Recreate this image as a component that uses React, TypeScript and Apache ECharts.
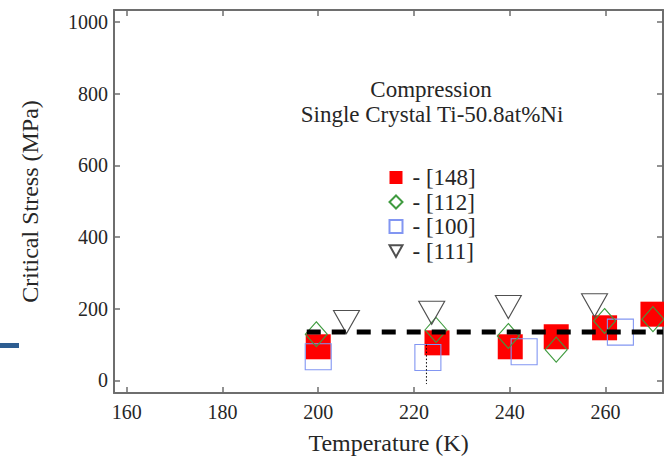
import React, { useEffect, useRef } from "react";
import * as echarts from "echarts";

// Temperature (K) and critical stress (MPa) for each loading orientation
const temp148 = [200, 224.8, 240.1, 249.7, 259.8, 269.9];
const stress148 = [94, 105, 94, 122, 147, 185];

const temp112 = [199.6, 224.6, 239.7, 249.7, 259.8, 269.9];
const stress112 = [129, 141, 124, 86, 166, 171];

const temp100 = [200, 222.9, 243, 263.1];
const stress100 = [66, 64, 80, 135];

const temp111 = [205.9, 223.7, 239.7, 257.7];
const stress111 = [163, 189, 205, 210];

// Reference level drawn as a thick dashed line
const refTemps = [197.6, 272];
const refStress = 135;

// Dotted marker near 223 K
const dottedTemp = 222.6;
const dottedStress = [100, -10];

const xTicks = [160, 180, 200, 220, 240, 260];
const yTicks = [0, 200, 400, 600, 800, 1000];

const seriesNames = ["- [148]", "- [112]", "- [100]", "- [111]"];

const serif = "'Liberation Serif', 'Times New Roman', serif";
const axisColor = "#6e6e6e";
const textColor = "#262626";

const pairs = (xs: number[], ys: number[]) => xs.map((x, i) => [x, ys[i]]);

export default function App() {
  const ref = useRef<HTMLDivElement>(null);

  useEffect(() => {
    if (!ref.current) return;
    const chart = echarts.init(ref.current, undefined, { renderer: "svg" });

    const baseX = {
      type: "value" as const,
      min: 157.35,
      max: 272,
      axisLine: { show: true, onZero: false, lineStyle: { color: axisColor, width: 2 } },
      axisTick: {
        show: true,
        inside: true,
        length: 6,
        customValues: xTicks,
        lineStyle: { color: axisColor, width: 1.5 },
      },
      splitLine: { show: false },
    };
    const baseY = {
      type: "value" as const,
      min: -35,
      max: 1034,
      axisLine: { show: true, onZero: false, lineStyle: { color: axisColor, width: 2 } },
      axisTick: {
        show: true,
        inside: true,
        length: 6,
        customValues: yTicks,
        lineStyle: { color: axisColor, width: 1.5 },
      },
      splitLine: { show: false },
    };

    chart.setOption({
      animation: false,
      backgroundColor: "#ffffff",
      grid: { left: 114, right: 1, top: 10, bottom: 64, containLabel: false },
      xAxis: [
        {
          ...baseX,
          position: "bottom",
          name: "Temperature (K)",
          nameLocation: "middle",
          nameGap: 38,
          nameTextStyle: { fontFamily: serif, fontSize: 24, color: textColor },
          axisLabel: {
            customValues: xTicks,
            margin: 9,
            fontFamily: serif,
            fontSize: 20,
            color: textColor,
            formatter: (v: number) => String(v),
          },
        },
        { ...baseX, position: "top", axisLabel: { show: false } },
      ],
      yAxis: [
        {
          ...baseY,
          position: "left",
          name: "Critical Stress (MPa)",
          nameLocation: "middle",
          nameGap: 72,
          nameTextStyle: { fontFamily: serif, fontSize: 24, color: textColor },
          axisLabel: {
            customValues: yTicks,
            margin: 6,
            fontFamily: serif,
            fontSize: 20,
            color: textColor,
            formatter: (v: number) => String(v),
          },
        },
        { ...baseY, position: "right", axisLabel: { show: false } },
      ],
      legend: {
        orient: "vertical",
        left: 382,
        top: 161,
        itemWidth: 13,
        itemHeight: 13,
        itemGap: 1.5,
        data: seriesNames,
        textStyle: {
          fontFamily: serif,
          fontSize: 23,
          color: textColor,
          padding: [0, 0, 0, 5],
        },
      },
      graphic: [
        {
          type: "text",
          x: 431,
          y: 89,
          style: {
            text: "Compression",
            fontFamily: serif,
            fontSize: 23,
            fill: textColor,
            textAlign: "center",
            textVerticalAlign: "middle",
          },
        },
        {
          type: "text",
          x: 432,
          y: 114,
          style: {
            text: "Single Crystal Ti-50.8at%Ni",
            fontFamily: serif,
            fontSize: 23,
            fill: textColor,
            textAlign: "center",
            textVerticalAlign: "middle",
          },
        },
        {
          type: "rect",
          shape: { x: 0, y: 343, width: 19, height: 5 },
          style: { fill: "#2d5d91" },
        },
      ],
      series: [
        {
          name: seriesNames[0],
          type: "scatter",
          symbol: "rect",
          symbolSize: 25,
          itemStyle: { color: "#ff0000", opacity: 1 },
          data: pairs(temp148, stress148),
          z: 2,
        },
        {
          name: seriesNames[1],
          type: "scatter",
          symbol: "diamond",
          symbolSize: [22, 25],
          itemStyle: { color: "none", borderColor: "#3f9b3f", borderWidth: 1.1, opacity: 1 },
          data: pairs(temp112, stress112),
          z: 4,
        },
        {
          name: seriesNames[2],
          type: "scatter",
          symbol: "rect",
          symbolSize: 26,
          itemStyle: { color: "none", borderColor: "#8296f2", borderWidth: 1.1, opacity: 1 },
          data: pairs(temp100, stress100),
          z: 3,
        },
        {
          name: seriesNames[3],
          type: "scatter",
          symbol: "path://M0,0 L10,0 L5,9 Z",
          symbolSize: [26, 23],
          itemStyle: { color: "none", borderColor: "#505050", borderWidth: 1.1, opacity: 1 },
          data: pairs(temp111, stress111),
          z: 5,
        },
        {
          type: "line",
          data: refTemps.map((t) => [t, refStress]),
          symbol: "none",
          lineStyle: { color: "#000000", width: 5, type: [14, 11] },
          z: 6,
          silent: true,
        },
        {
          type: "line",
          data: dottedStress.map((s) => [dottedTemp, s]),
          symbol: "none",
          lineStyle: { color: "#000000", width: 1, type: [1.5, 2] },
          z: 6,
          silent: true,
        },
      ],
    });

    return () => chart.dispose();
  }, []);

  return (
    <div
      ref={ref}
      style={{ position: "fixed", left: 0, top: 0, width: 664, height: 460 }}
    />
  );
}
